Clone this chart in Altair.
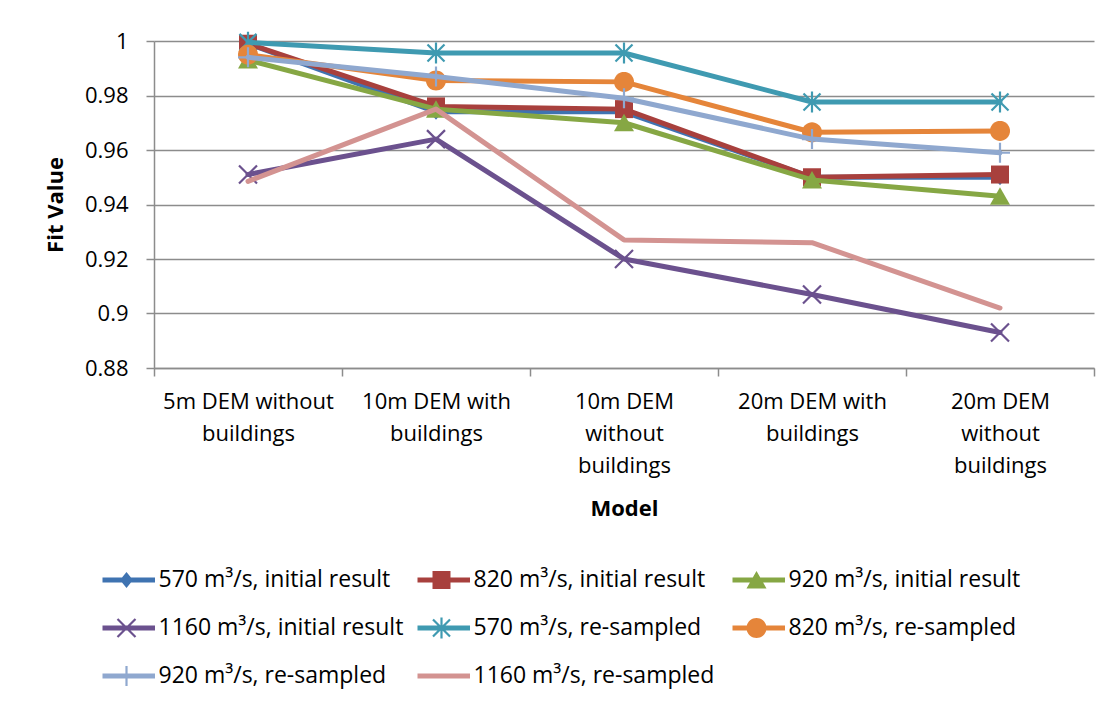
import math
import altair as alt
import pandas as pd

# ---------------- data ----------------
categories = [
    "5m DEM without|buildings",
    "10m DEM with|buildings",
    "10m DEM|without|buildings",
    "20m DEM with|buildings",
    "20m DEM|without|buildings",
]
series_names = [
    "570 m³/s, initial result",
    "820 m³/s, initial result",
    "920 m³/s, initial result",
    "1160 m³/s, initial result",
    "570 m³/s, re-sampled",
    "820 m³/s, re-sampled",
    "920 m³/s, re-sampled",
    "1160 m³/s, re-sampled",
]
v570_initial = [0.999, 0.974, 0.974, 0.950, 0.950]
v820_initial = [0.999, 0.976, 0.975, 0.950, 0.951]
v920_initial = [0.993, 0.975, 0.970, 0.949, 0.943]
v1160_initial = [0.951, 0.964, 0.920, 0.907, 0.893]
v570_resampled = [0.9995, 0.9956, 0.9956, 0.9776, 0.9776]
v820_resampled = [0.995, 0.9855, 0.985, 0.9665, 0.967]
v920_resampled = [0.994, 0.987, 0.979, 0.964, 0.959]
v1160_resampled = [0.9485, 0.975, 0.927, 0.926, 0.902]
series_values = [v570_initial, v820_initial, v920_initial, v1160_initial,
                 v570_resampled, v820_resampled, v920_resampled, v1160_resampled]
y_ticks = [0.88, 0.90, 0.92, 0.94, 0.96, 0.98, 1.0]

colors = ["#3F73B1", "#A8403D", "#86A744", "#6B518E",
          "#3F9AB1", "#E5853A", "#8FA8CF", "#D39391"]
marker_kinds = ["diamond", "square", "triangle", "x", "star", "circle", "plus", None]

rows = []
for name, vals in zip(series_names, series_values):
    for cat, v in zip(categories, vals):
        rows.append({"model": cat, "series": name, "fit": v})
df = pd.DataFrame(rows)

# ---------------- marker shapes (filled polygons, consistent winding) ----------------
def poly(pts):
    area = sum(pts[i][0] * pts[(i + 1) % len(pts)][1] - pts[(i + 1) % len(pts)][0] * pts[i][1]
               for i in range(len(pts)))
    if area < 0:
        pts = pts[::-1]
    return "M" + "L".join(f"{x:.4f},{y:.4f}" for x, y in pts) + "Z"

def bar(p1, p2, t):
    dx, dy = p2[0] - p1[0], p2[1] - p1[1]
    L = math.hypot(dx, dy)
    nx, ny = -dy / L * t, dx / L * t
    return [(p1[0] + nx, p1[1] + ny), (p2[0] + nx, p2[1] + ny),
            (p2[0] - nx, p2[1] - ny), (p1[0] - nx, p1[1] - ny)]

def marker_polys(kind, s=1.0):
    t = 0.11
    if kind == "diamond":
        return [[(0, -0.8 * s), (0.65 * s, 0), (0, 0.8 * s), (-0.65 * s, 0)]]
    if kind == "square":
        return [[(-0.9 * s, -0.9 * s), (0.9 * s, -0.9 * s), (0.9 * s, 0.9 * s), (-0.9 * s, 0.9 * s)]]
    if kind == "triangle":
        return [[(0, -0.9 * s), (1.0 * s, 0.85 * s), (-1.0 * s, 0.85 * s)]]
    if kind == "circle":
        return [[(math.cos(a) * s, math.sin(a) * s) for a in
                 [2 * math.pi * k / 36 for k in range(36)]]]
    if kind == "x":
        return [bar((-0.9 * s, -0.9 * s), (0.9 * s, 0.9 * s), t * s),
                bar((-0.9 * s, 0.9 * s), (0.9 * s, -0.9 * s), t * s)]
    if kind == "star":
        return [bar((-0.85 * s, -0.85 * s), (0.85 * s, 0.85 * s), t * s),
                bar((-0.85 * s, 0.85 * s), (0.85 * s, -0.85 * s), t * s),
                bar((0, -1.05 * s), (0, 1.05 * s), t * s)]
    if kind == "plus":
        return [bar((0, -1.0 * s), (0, 1.0 * s), t * s),
                bar((-1.0 * s, 0), (1.0 * s, 0), t * s)]
    return []

def path_of(polys):
    return " ".join(poly(p) for p in polys) if polys else "M0,0Z"

PLOT_SIZE = 400      # sqrt -> 20 px, unit = 10 px
LEG_SIZE = 2304      # sqrt -> 48 px, unit = 24 px
leg_unit = 24.0
plot_paths = [path_of(marker_polys(k)) for k in marker_kinds]
legend_paths = []
for k in marker_kinds:
    line = [(-57 / 2 / leg_unit, -2.5 / leg_unit), (57 / 2 / leg_unit, -2.5 / leg_unit),
            (57 / 2 / leg_unit, 2.5 / leg_unit), (-57 / 2 / leg_unit, 2.5 / leg_unit)]
    legend_paths.append(path_of([line] + marker_polys(k, 10 / leg_unit)))

# ---------------- chart ----------------
FONT = "Open Sans"
GRAY = "#8C8C8C"

x_enc = alt.X(
    "model:N", sort=categories,
    scale=alt.Scale(paddingInner=0, paddingOuter=0),
    axis=alt.Axis(
        title="Model", labelExpr="split(datum.label, '|')", labelAngle=0,
        labelFontSize=22, labelLineHeight=32, labelColor="black", labelPadding=15,
        labelFont=FONT, labelLimit=400,
        tickBand="extent", tickSize=8, tickColor=GRAY, tickWidth=1.5,
        domainColor=GRAY, domainWidth=1.5, grid=False,
        titleFontSize=22, titleFont=FONT, titleFontWeight="bold", titleColor="black",
        titleY=140, titleBaseline="middle",
    ),
)
y_enc = alt.Y(
    "fit:Q",
    scale=alt.Scale(domain=[0.88, 1.0], nice=False, zero=False),
    axis=alt.Axis(
        title="Fit Value", values=y_ticks, format="~g",
        labelFontSize=22, labelColor="black", labelPadding=18, labelFont=FONT,
        tickSize=8, tickColor=GRAY, tickWidth=1.5,
        domainColor=GRAY, domainWidth=1.5,
        grid=True, gridColor=GRAY, gridWidth=1.5,
        titleFontSize=22, titleFont=FONT, titleFontWeight="bold", titleColor="black",
        titleX=-99, titleY=163.5, titleAngle=270, titleBaseline="middle", titleAlign="center",
    ),
)

base = alt.Chart(df)
layers = []
for i, name in enumerate(series_names):
    sub = base.transform_filter(alt.datum.series == name)
    layers.append(sub.mark_line(strokeWidth=5, strokeCap="round", strokeJoin="round",
                                color=colors[i]).encode(x=x_enc, y=y_enc))
    if marker_kinds[i] is not None:
        layers.append(sub.mark_point(shape=plot_paths[i], filled=True, size=PLOT_SIZE,
                                     color=colors[i], opacity=1, strokeWidth=0)
                      .encode(x=x_enc, y=y_enc))

legend = alt.Legend(
    title=None, orient="none", legendX=-51.5, legendY=515, columns=3, direction="horizontal",
    symbolSize=LEG_SIZE, symbolStrokeWidth=0, clipHeight=48,
    labelFont=FONT, labelFontSize=23, labelColor="black", labelLimit=500,
    labelOffset=8, rowPadding=0, columnPadding=14, gridAlign="all", padding=0,
)
legend_layer = base.transform_filter("false").mark_point(
    filled=True, size=LEG_SIZE, opacity=1, strokeWidth=0
).encode(
    color=alt.Color("series:N", scale=alt.Scale(domain=series_names, range=colors), legend=legend),
    shape=alt.Shape("series:N", scale=alt.Scale(domain=series_names, range=legend_paths), legend=legend),
)
layers.append(legend_layer)

chart = alt.layer(*layers).properties(
    width=940, height=327,
    autosize=alt.AutoSizeParams(type="none"),
    padding={"left": 146, "top": 33, "right": 8, "bottom": 325},
).configure(font=FONT).configure_view(stroke=None)

chart.save("out.html", embed_options={"renderer": "svg", "actions": False})
